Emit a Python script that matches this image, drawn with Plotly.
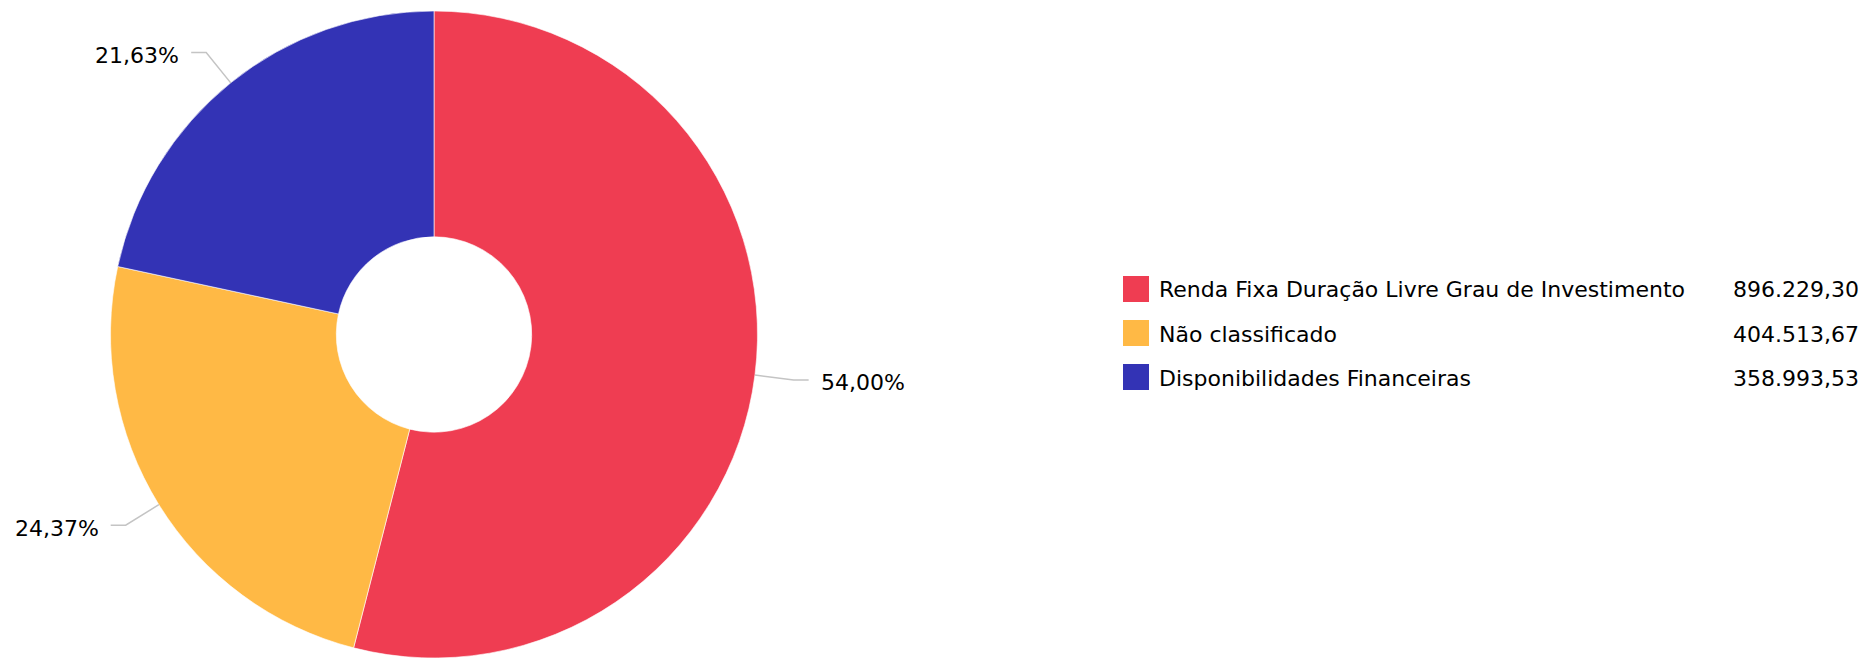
import math
import plotly.graph_objects as go

# ---- data ----
categories = [
    "Renda Fixa Duração Livre Grau de Investimento",
    "Não classificado",
    "Disponibilidades Financeiras",
]
values = [896229.30, 404513.67, 358993.53]
colors = ["#EF3D52", "#FFB945", "#3333B5"]

# ---- layout constants ----
W, H = 1865, 658
CX, CY, R = 434.0, 334.5, 323.5
HOLE = 0.302
FONT = "DejaVu Sans, Verdana, sans-serif"
FS = 22


def fmt_br(v, d=2):
    s = f"{v:,.{d}f}"
    return s.replace(",", "X").replace(".", ",").replace("X", ".")


def px(x):
    return x / W


def py(y):
    return 1 - y / H


fig = go.Figure()
fig.add_trace(
    go.Pie(
        labels=categories,
        values=values,
        marker=dict(colors=colors, line=dict(color="rgba(255,255,255,0.6)", width=1)),
        hole=HOLE,
        sort=False,
        direction="clockwise",
        rotation=0,
        textinfo="none",
        hoverinfo="label+value+percent",
        showlegend=False,
        domain=dict(x=[px(CX - R), px(CX + R)], y=[py(CY + R), py(CY - R)]),
    )
)

shapes = []
annotations = []
total = sum(values)
cum = 0.0
L1, L2, GAP = 39, 15, 10
for v in values:
    frac = v / total
    theta = math.radians((cum + frac / 2) * 360)
    cum += frac
    ux, uy = math.sin(theta), math.cos(theta)
    ex, ey = CX + R * ux, CY - R * uy
    bx, by = CX + (R + L1) * ux, CY - (R + L1) * uy
    side = 1 if ux >= 0 else -1
    hx = bx + side * L2
    shapes.append(
        dict(
            type="path",
            xref="paper",
            yref="paper",
            path=f"M {px(ex)} {py(ey)} L {px(bx)} {py(by)} L {px(hx)} {py(by)}",
            line=dict(color="#C4C4C4", width=1.5),
        )
    )
    annotations.append(
        dict(
            x=px(hx + side * GAP),
            y=py(by + 3),
            xref="paper",
            yref="paper",
            text=fmt_br(frac * 100) + "%",
            showarrow=False,
            xanchor="left" if side > 0 else "right",
            yanchor="middle",
            font=dict(family=FONT, size=FS, color="#000000"),
        )
    )

# ---- custom legend ----
LEG_Y0, LEG_DY = 289, 44
for i, (cat, v, c) in enumerate(zip(categories, values, colors)):
    yc = LEG_Y0 + i * LEG_DY
    shapes.append(
        dict(
            type="rect",
            xref="paper",
            yref="paper",
            x0=px(1123),
            x1=px(1149),
            y0=py(yc - 13),
            y1=py(yc + 13),
            fillcolor=c,
            line=dict(width=0),
        )
    )
    annotations.append(
        dict(
            x=px(1157),
            y=py(yc + 1),
            xref="paper",
            yref="paper",
            text=cat,
            showarrow=False,
            xanchor="left",
            yanchor="middle",
            font=dict(family=FONT, size=FS, color="#000000"),
        )
    )
    annotations.append(
        dict(
            x=px(1861),
            y=py(yc + 1),
            xref="paper",
            yref="paper",
            text=fmt_br(v),
            showarrow=False,
            xanchor="right",
            yanchor="middle",
            font=dict(family=FONT, size=FS, color="#000000"),
        )
    )

fig.update_layout(
    width=W,
    height=H,
    margin=dict(l=0, r=0, t=0, b=0),
    paper_bgcolor="white",
    plot_bgcolor="white",
    shapes=shapes,
    annotations=annotations,
    font=dict(family=FONT, size=FS, color="#000000"),
)

fig.write_html(
    "out.html",
    config={"displayModeBar": False},
    post_script="document.body.style.margin='0';document.body.style.overflow='hidden';",
)
